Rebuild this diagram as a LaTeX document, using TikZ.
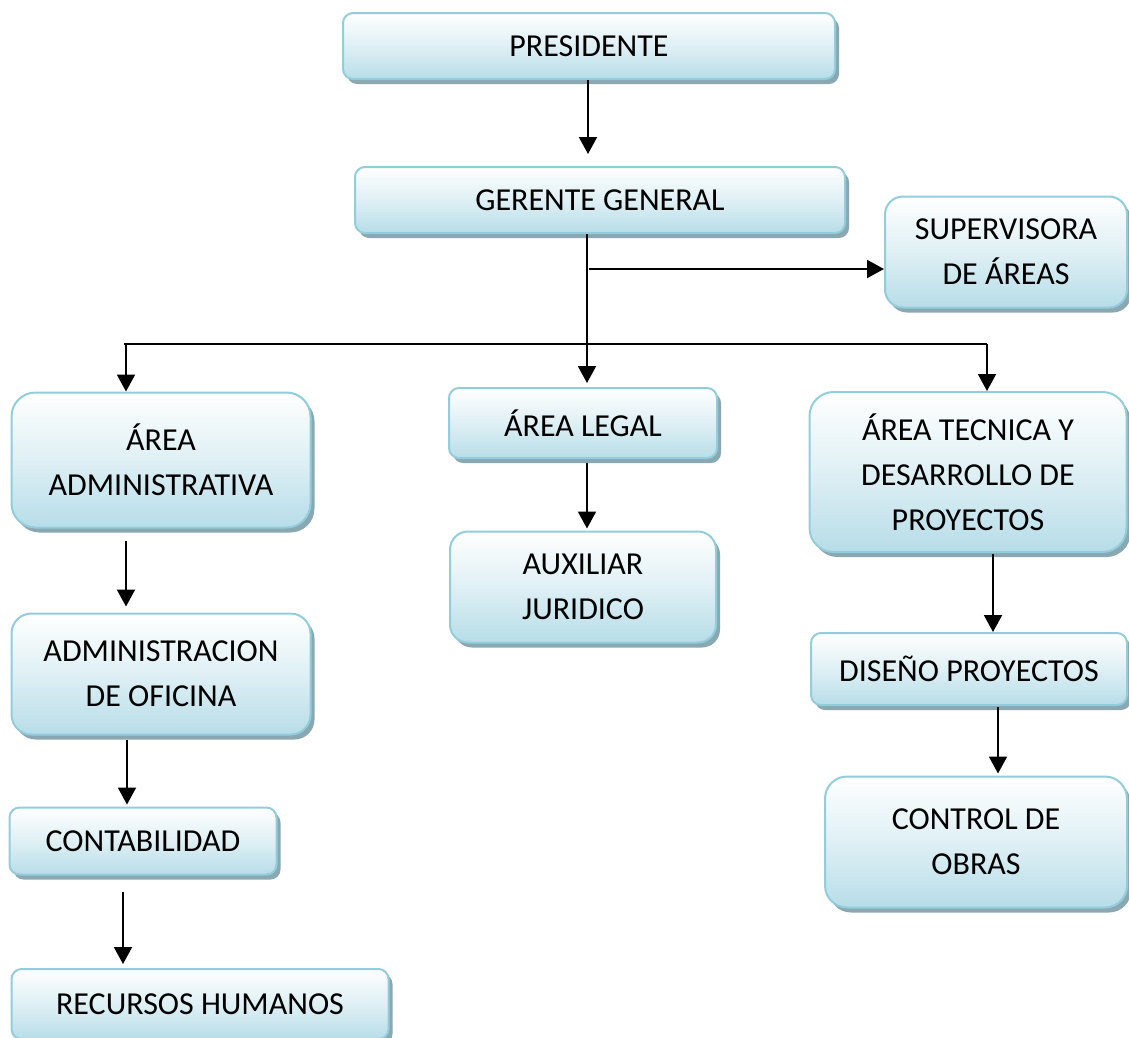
\documentclass[tikz,border=0pt]{standalone}
\usepackage{fontspec}
\setmainfont{Carlito}
\usepackage{tikz}
\usetikzlibrary{calc}
\usetikzlibrary{shadows,arrows.meta}

\definecolor{borde}{RGB}{146,205,220}
\definecolor{celeste}{RGB}{183,221,232}
\definecolor{sombra}{RGB}{138,168,178}

\tikzset{
	caja/.style={draw=borde, line width=2pt, rounded corners=#1,
		top color=white, bottom color=celeste, middle color=celeste!45,
		drop shadow={shadow xshift=4pt, shadow yshift=-5pt, fill=sombra, opacity=1},
		align=center, inner sep=0pt, font=\fontsize{32}{45}\selectfont},
	caja/.default=10pt,
	flecha/.style={line width=2pt, -{Triangle[width=18pt,length=17pt]}},
	linea/.style={line width=2pt}
}

\begin{document}
\begin{tikzpicture}[x=1pt,y=-1pt]
			\useasboundingbox (0,0) rectangle (1129,1037);
			
			% cajas
			\node[caja, minimum width=492, minimum height=66] (pres) at (589,46) {PRESIDENTE};
			\node[caja, minimum width=490, minimum height=66] (ger) at (600,200) {GERENTE GENERAL};
			\node[caja=18pt, minimum width=242, minimum height=111] (sup) at (1006,252) {SUPERVISORA\\DE ÁREAS};
			
			\node[caja=24pt, minimum width=299, minimum height=135] (adm) at (161,460) {ÁREA\\ADMINISTRATIVA};
			\node[caja, minimum width=268, minimum height=70] (legal) at (583,423) {ÁREA LEGAL};
			\node[caja=24pt, minimum width=317, minimum height=160] (tec) at (968,472) {ÁREA TECNICA Y\\DESARROLLO DE\\PROYECTOS};
			
			\node[caja=18pt, minimum width=266, minimum height=111] (aux) at (583,587) {AUXILIAR\\JURIDICO};
			\node[caja=20pt, minimum width=299, minimum height=121] (ofi) at (161,674) {ADMINISTRACION\\DE OFICINA};
			\node[caja, minimum width=316, minimum height=72] (dis) at (969,669) {DISEÑO PROYECTOS};
			\node[caja, minimum width=267, minimum height=67] (cont) at (143,841) {CONTABILIDAD};
			\node[caja=22pt, minimum width=302, minimum height=131] (ctrl) at (976,842) {CONTROL DE\\OBRAS};
			\node[caja, minimum width=377, minimum height=70] (rec) at (200,1004) {RECURSOS HUMANOS};
			
			% lineas
			\coordinate (bus) at (587,344);
			\coordinate (busL) at (124,344);
			\coordinate (busR) at (987,344);
			\coordinate (ramal) at (589,269);
			
			\draw[flecha, shorten >=12pt] ([xshift=-1pt]pres.south) -- ([xshift=-1pt]pres.south |- ger.north);
			\draw[linea] (ger.south -| bus) -- (bus);
			\draw[flecha] (ramal) -- (ramal -| sup.west);
			\draw[linea] (busL) -- (busR);
			\draw[flecha, shorten >=4pt] (bus) -- (bus |- legal.north);
			\draw[flecha] ([xshift=2pt]busL) -- ([xshift=2pt]busL |- adm.north);
			\draw[flecha] (busR) -- (busR |- tec.north);
			
			\draw[flecha, shorten <=12pt, shorten >=6pt] ([xshift=2pt]busL |- adm.south) -- ([xshift=2pt]busL |- ofi.north);
			\draw[flecha, shorten <=4pt, shorten >=2pt] ([xshift=3pt]busL |- ofi.south) -- ([xshift=3pt]busL |- cont.north);
			\draw[flecha, shorten <=16pt, shorten >=4pt] ([xshift=-1pt]busL |- cont.south) -- ([xshift=-1pt]busL |- rec.north);
			\draw[flecha, shorten <=4pt, shorten >=2pt] (legal.south -| bus) -- (bus |- aux.north);
			\draw[flecha, shorten <=1pt] ([xshift=6pt]busR |- tec.south) -- ([xshift=6pt]busR |- dis.north);
			\draw[flecha, shorten <=1pt, shorten >=2pt] ([xshift=11pt]busR |- dis.south) -- ([xshift=11pt]busR |- ctrl.north);
			
\end{tikzpicture}
\end{document}
